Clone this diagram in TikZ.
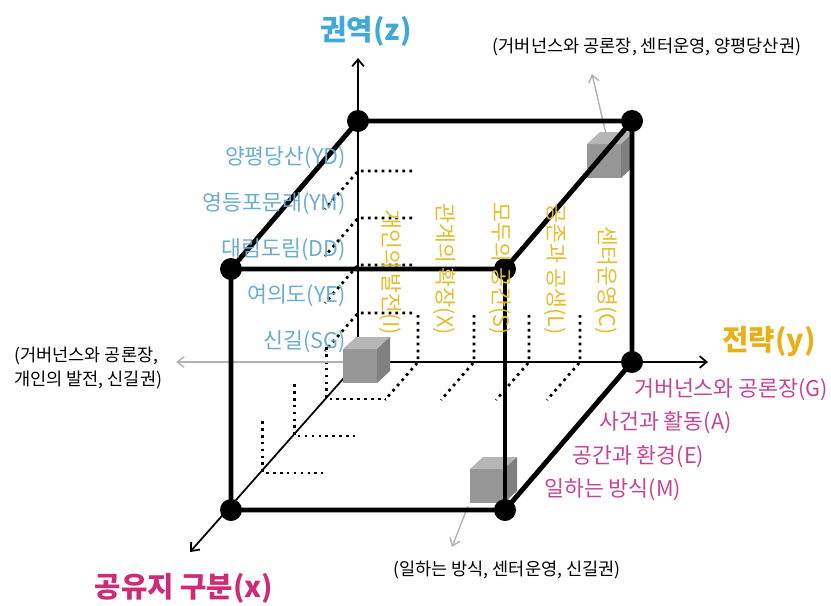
\documentclass[tikz,border=0pt]{standalone}
\usepackage{fontspec}
\setmainfont{Noto Sans CJK KR}
\usetikzlibrary{arrows.meta, calc}

\definecolor{zblue}{RGB}{62,168,214}
\definecolor{zlight}{RGB}{108,172,204}
\definecolor{ygold}{RGB}{232,176,22}
\definecolor{ylight}{RGB}{226,190,48}
\definecolor{xpink}{RGB}{206,42,120}
\definecolor{xlight}{RGB}{196,68,150}
\definecolor{cubegray}{RGB}{150,150,150}
\definecolor{pointgray}{RGB}{178,178,178}

\begin{document}
\begin{tikzpicture}[
    x=0.03cm, y=-0.03cm,
    edge/.style = {line width=4.2pt, line join=round},
    axis/.style = {line width=1.5pt, -{Straight Barb[length=6pt,width=10pt]}},
    pointer/.style = {draw=pointgray, line width=1.2pt, -{Straight Barb[length=6pt,width=9pt]}},
    griddot/.style = {line width=2.3pt, dash pattern=on 2.3pt off 3.6pt},
    vdot/.style = {circle, fill=black, inner sep=0pt, minimum size=0.66cm},
    head/.style = {font=\fontsize{24.5}{28}\selectfont\bfseries},
    zlab/.style = {text=zlight, anchor=east, font=\fontsize{18.5}{22}\selectfont},
    ylab/.style = {text=ylight, rotate=-90, anchor=east, font=\fontsize{18.5}{22}\selectfont},
    xlab/.style = {text=xlight, anchor=west, font=\fontsize{18.5}{22}\selectfont},
    note/.style = {font=\fontsize{15}{20}\selectfont},
    gcube/.pic = {
        \fill[cubegray] (0,0) rectangle (34,-34);
        \fill[cubegray!70] (0,-34) -- (13,-46) -- (47,-46) -- (34,-34) -- cycle;
        \fill[cubegray!85!black] (34,0) -- (47,-12) -- (47,-46) -- (34,-34) -- cycle;
    }
]
\useasboundingbox (0,0) rectangle (831,605);

% cube corners (pixel positions)
\coordinate (O) at (358,362);
\coordinate (A) at (358,121);
\coordinate (B) at (632,121);
\coordinate (C) at (231,269);
\coordinate (D) at (505,269);
\coordinate (E) at (632,362);
\coordinate (F) at (231,510);
\coordinate (G) at (505,510);

% axis ends
\coordinate (zend) at (358,58);
\coordinate (yend) at (708,362);
\coordinate (xend) at (190,552);

% dotted grid marks
\foreach \t in {0.25,0.5,0.75}
    \draw[griddot] ($(O)+\t*(-127,148)+(0,-52)$) -- ($(O)+\t*(-127,148)$) -- ++(60,0);
\foreach \u in {418,474,529,580}
    \draw[griddot] (\u,315) -- (\u,362) -- ++(-33,38);
\foreach \v in {313,265,218,171}
    \draw[griddot] (412,\v) -- (358,\v) -- ++(-33,38);

% axes
\draw[axis] (O) -- (zend);
\draw[axis] (O) -- (yend);
\draw[axis] (O) -- (xend);

% small cubes and their notes
\pic at (343,383) {gcube};
\pic at (587,178) {gcube};
\pic at (470,503) {gcube};

\node[note] (ntop) at (647,47) {(거버넌스와 공론장, 센터운영, 양평당산권)};
\node[note, align=left, anchor=west] (nleft) at (10,368) {(거버넌스와 공론장,\\개인의 발전, 신길권)};
\node[note] (nbot) at (507,570) {(일하는 방식, 센터운영, 신길권)};

\coordinate (c1) at (343,362);
\coordinate (c2) at (606,134);
\coordinate (c3) at (468,506);
\coordinate (p1) at (176,362);
\coordinate (p2) at (592,74);
\coordinate (p3) at (452,547);
\draw[pointer] (c1) -- (p1);
\draw[pointer] (c2) -- (p2);
\draw[pointer] (c3) -- (p3);

% cube edges
\draw[edge] (A) -- (B) -- (E) -- (G) -- (F) -- (C) -- cycle;
\draw[edge] (C) -- (D) -- (B);
\draw[edge] (D) -- (G);
\foreach \p in {A,B,C,D,E,F,G}
    \node[vdot] (dot\p) at (\p) {};

% axis titles
\node[head, text=zblue] (ztitle) at (366,31) {권역(z)};
\node[head, text=ygold] (ytitle) at (769,342) {전략(y)};
\node[head, text=xpink] (xtitle) at (184,588) {공유지 구분(x)};

% region labels (z)
\node[zlab] (yd) at (350,158) {양평당산(YD)};
\node[zlab] (ym) at (350,204) {영등포문래(YM)};
\node[zlab] (dd) at (350,250) {대림도림(DD)};
\node[zlab] (ye) at (350,296) {여의도(YE)};
\node[zlab] (sg) at (350,342) {신길(SG)};

% strategy labels (y)
\node[ylab] (ind) at (390,339) {개인의 발전(I)};
\node[ylab] (rel) at (444,339) {관계의 확장(X)};
\node[ylab] (all) at (500,339) {모두의 공간(S)};
\node[ylab] (coex) at (555,339) {공존과 공생(L)};
\node[ylab] (cen) at (606,339) {센터운영(C)};

% commons labels (x)
\node[xlab] (gov) at (630,390) {거버넌스와 공론장(G)};
\node[xlab] (act) at (595,423) {사건과 활동(A)};
\node[xlab] (env) at (568,457) {공간과 환경(E)};
\node[xlab] (work) at (540,490) {일하는 방식(M)};

\end{tikzpicture}
\end{document}
